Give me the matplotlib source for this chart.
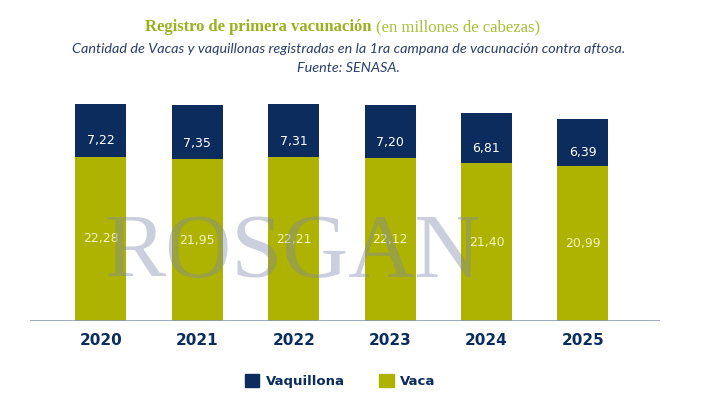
import matplotlib.pyplot as plt
from matplotlib.patches import Patch

years = ["2020", "2021", "2022", "2023", "2024", "2025"]
vaca = [22.28, 21.95, 22.21, 22.12, 21.40, 20.99]
vaquillona = [7.22, 7.35, 7.31, 7.20, 6.81, 6.39]

navy = "#0b2c5c"
olive = "#adb300"

fig = plt.figure(figsize=(7.09, 3.99), dpi=100)
ax = fig.add_axes([30 / 709, 78 / 399, 630 / 709, 221 / 399])
x = range(len(years))
ax.bar(x, vaca, width=0.53, color=olive, zorder=2)
ax.bar(x, vaquillona, width=0.53, bottom=vaca, color=navy, zorder=2)

for i in x:
    ax.text(i, vaca[i] / 2, f"{vaca[i]:.2f}".replace(".", ","), ha="center", va="center",
            color="#f3f0b8", fontsize=9, zorder=3)
    ax.text(i, vaca[i] + vaquillona[i] * 0.3, f"{vaquillona[i]:.2f}".replace(".", ","),
            ha="center", va="center", color="white", fontsize=9, zorder=3)

ax.set_xlim(-0.736, 5.8)
ax.set_ylim(0, 30)
ax.axis("off")
ax.axhline(0, color="#8e9bb5", lw=1.2, zorder=4)
for i in x:
    ax.text(i, -2.6, years[i], ha="center", va="center", fontsize=11, fontweight="bold",
            color=navy)

# watermark
fig.text(0.413, 0.306, "ROSGAN", ha="center", va="baseline", fontsize=66,
         family="Liberation Serif", color="#7d86a8", alpha=0.4, zorder=10)

# title
fig.text(0.53, 0.932, "Registro de primera vacunación ", ha="right", va="center",
         fontsize=12, fontweight="bold", color="#9bb020", family="Liberation Serif")
fig.text(0.53, 0.932, "(en millones de cabezas)", ha="left", va="center",
         fontsize=12, color="#a9bf3a", family="Liberation Serif")
fig.text(0.492, 0.877, "Cantidad de Vacas y vaquillonas registradas en la 1ra campana de vacunación contra aftosa.",
         ha="center", va="center", fontsize=10.4, style="italic", color="#2b3f6b", family="Lato")
fig.text(0.492, 0.829, "Fuente: SENASA.", ha="center", va="center", fontsize=10.4,
         style="italic", color="#2b3f6b", family="Lato")

handles = [Patch(color=navy, label="Vaquillona"), Patch(color=olive, label="Vaca")]
leg = fig.legend(handles=handles, loc="center", bbox_to_anchor=(0.48, 0.045), ncol=2,
                 frameon=False, handlelength=1.1, handleheight=1.1, columnspacing=2.6,
                 handletextpad=0.5, prop={"weight": "bold", "size": 9.5})
for t in leg.get_texts():
    t.set_color(navy)

fig.savefig("out.png", dpi=100)
